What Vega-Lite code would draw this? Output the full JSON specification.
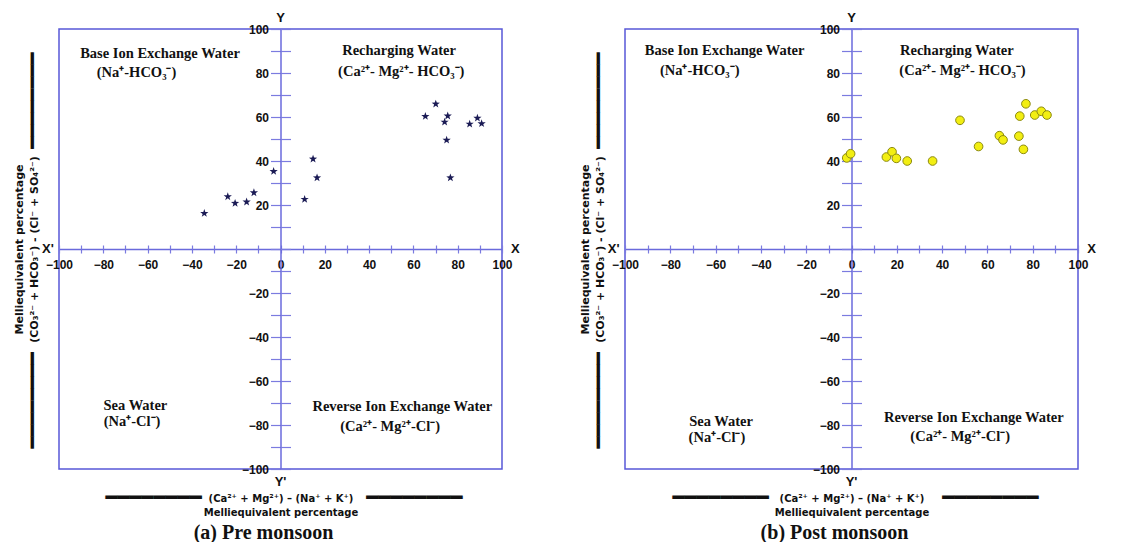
{
  "$schema": "https://vega.github.io/schema/vega-lite/v6.json",
  "padding": {"left": 12, "top": 11, "right": 0, "bottom": 0},
  "spacing": 57,
  "datasets": {
    "pre": [
      {"x": -34.4, "y": 16.2}, {"x": -23.8, "y": 23.8}, {"x": -20.5, "y": 20.8}, {"x": -15.3, "y": 21.4},
      {"x": -12.0, "y": 25.6}, {"x": -3.1, "y": 35.3}, {"x": 10.9, "y": 22.6}, {"x": 14.7, "y": 40.9},
      {"x": 16.5, "y": 32.4}, {"x": 65.4, "y": 60.3}, {"x": 70.1, "y": 65.9}, {"x": 74.1, "y": 57.7},
      {"x": 75.5, "y": 60.5}, {"x": 75.0, "y": 49.5}, {"x": 76.7, "y": 32.4}, {"x": 85.4, "y": 56.8},
      {"x": 88.9, "y": 59.5}, {"x": 90.8, "y": 57.0}
    ],
    "post": [
      {"x": -2.1, "y": 41.4}, {"x": -0.4, "y": 43.3}, {"x": 15.4, "y": 41.8}, {"x": 17.9, "y": 44.2},
      {"x": 19.8, "y": 41.2}, {"x": 24.6, "y": 40.0}, {"x": 35.8, "y": 40.0}, {"x": 47.9, "y": 58.5},
      {"x": 56.1, "y": 46.6}, {"x": 65.3, "y": 51.5}, {"x": 66.9, "y": 49.6}, {"x": 73.9, "y": 51.3},
      {"x": 74.3, "y": 60.4}, {"x": 75.9, "y": 45.3}, {"x": 77.0, "y": 66.0}, {"x": 80.9, "y": 60.9},
      {"x": 83.8, "y": 62.6}, {"x": 86.3, "y": 60.9}
    ],
    "quad_a": [
      {"x": -54.4, "y": 88.6, "label": "Base Ion Exchange Water"},
      {"x": -65, "y": 80, "label": "(Na⁺-HCO₃⁻)"},
      {"x": 53.5, "y": 90, "label": "Recharging Water"},
      {"x": 54.5, "y": 80.5, "label": "(Ca²⁺- Mg²⁺- HCO₃⁻)"},
      {"x": -65.5, "y": -71.4, "label": "Sea Water"},
      {"x": -67, "y": -78.6, "label": "(Na⁺-Cl⁻)"},
      {"x": 55, "y": -72, "label": "Reverse Ion Exchange Water"},
      {"x": 49.5, "y": -81, "label": "(Ca²⁺- Mg²⁺-Cl⁻)"}
    ],
    "quad_b": [
      {"x": -56, "y": 90, "label": "Base Ion Exchange Water"},
      {"x": -67, "y": 81, "label": "(Na⁺-HCO₃⁻)"},
      {"x": 46.5, "y": 90, "label": "Recharging Water"},
      {"x": 49, "y": 81, "label": "(Ca²⁺- Mg²⁺- HCO₃⁻)"},
      {"x": -57.6, "y": -78.6, "label": "Sea Water"},
      {"x": -59.4, "y": -86, "label": "(Na⁺-Cl⁻)"},
      {"x": 54, "y": -77, "label": "Reverse Ion Exchange Water"},
      {"x": 48, "y": -85.5, "label": "(Ca²⁺- Mg²⁺-Cl⁻)"}
    ],
    "ends": [
      {"x": 0, "y": 105, "label": "Y"},
      {"x": 106, "y": 0, "label": "X"},
      {"x": -105, "y": 0, "label": "X'"},
      {"x": 0, "y": -106, "label": "Y'"}
    ]
  },
  "hconcat": [
    {
      "width": 443,
      "height": 440,
      "title": {"text": "(a) Pre monsoon", "orient": "bottom", "font": "Liberation Serif", "fontSize": 20, "fontWeight": "bold", "color": "#111111", "offset": 6, "anchor": "middle", "dx": -17},
      "resolve": {"axis": {"x": "independent", "y": "independent"}},
      "layer": [
        {
          "data": {"name": "pre"},
          "mark": {"type": "point", "shape": "M0,-1L0.235,-0.324L0.951,-0.309L0.38,0.124L0.588,0.809L0,0.4L-0.588,0.809L-0.38,0.124L-0.951,-0.309L-0.235,-0.324Z", "filled": true, "color": "#1b1b55", "opacity": 1, "size": 75},
          "encoding": {
            "x": {"field": "x", "type": "quantitative", "scale": {"domain": [-100, 100], "nice": false, "zero": false},
              "axis": {"orient": "bottom", "offset": -220, "title": null, "grid": false,
                "values": [-100,-90,-80,-70,-60,-50,-40,-30,-20,-10,0,10,20,30,40,50,60,70,80,90,100],
                "labelExpr": "datum.value % 20 === 0 ? datum.label : ''",
                "tickSize": 4, "tickColor": "#7b7be0", "tickWidth": 1.2, "domainColor": "#6a6adc", "domainWidth": 1.5,
                "labelFont": "Liberation Sans", "labelFontWeight": "bold", "labelFontSize": 12, "labelColor": "#111111",
                "labelPadding": 6, "labelFlush": false, "labelOverlap": false}},
            "y": {"field": "y", "type": "quantitative", "scale": {"domain": [-100, 100], "nice": false, "zero": false},
              "axis": {"orient": "left", "offset": -221.5, "title": null, "grid": false,
                "values": [-100,-90,-80,-70,-60,-50,-40,-30,-20,-10,0,10,20,30,40,50,60,70,80,90,100],
                "labelExpr": "datum.value % 20 === 0 && datum.value !== 0 ? datum.label : ''",
                "tickSize": 10, "tickColor": "#7b7be0", "tickWidth": 1.2, "domainColor": "#6a6adc", "domainWidth": 1.5,
                "labelFont": "Liberation Sans", "labelFontWeight": "bold", "labelFontSize": 12, "labelColor": "#111111",
                "labelPadding": 2, "labelOverlap": false}}
          }
        },
        {
          "data": {"name": "pre"},
          "mark": {"type": "point", "opacity": 0},
          "encoding": {
            "x": {"field": "x", "type": "quantitative",
              "axis": {"orient": "top", "offset": -220, "title": null, "grid": false, "labels": false, "domain": false,
                "values": [-100,-90,-80,-70,-60,-50,-40,-30,-20,-10,0,10,20,30,40,50,60,70,80,90,100],
                "tickSize": 4, "tickColor": "#7b7be0", "tickWidth": 1.2}},
            "y": {"field": "y", "type": "quantitative",
              "axis": {"orient": "right", "offset": -221.5, "title": null, "grid": false, "labels": false, "domain": false,
                "values": [-100,-90,-80,-70,-60,-50,-40,-30,-20,-10,0,10,20,30,40,50,60,70,80,90,100],
                "tickSize": 10, "tickColor": "#7b7be0", "tickWidth": 1.2}}
          }
        },
        {
          "data": {"name": "pre"},
          "mark": {"type": "point", "opacity": 0},
          "encoding": {
            "x": {"field": "x", "type": "quantitative",
              "axis": {"orient": "bottom", "offset": 0, "grid": false, "labels": false, "domain": false, "ticks": false,
                "title": ["(Ca²⁺ + Mg²⁺) – (Na⁺ + K⁺)", "Melliequivalent percentage"],
                "titleFont": "DejaVu Sans", "titleFontWeight": "bold", "titleFontSize": 10, "titleColor": "#111111",
                "titlePadding": 24, "titleLineHeight": 14}},
            "y": {"field": "y", "type": "quantitative",
              "axis": {"orient": "left", "offset": 0, "grid": false, "labels": false, "domain": false, "ticks": false,
                "title": ["Melliequivalent percentage", "(CO₃²⁻ + HCO₃⁻) - (Cl⁻ + SO₄²⁻)"],
                "titleFont": "DejaVu Sans", "titleFontWeight": "bold", "titleFontSize": 11, "titleColor": "#111111",
                "titlePadding": 20, "titleLineHeight": 15}}
          }
        },
        {
          "data": {"name": "pre"},
          "mark": {"type": "point", "opacity": 0},
          "encoding": {
            "x": {"field": "x", "type": "quantitative",
              "axis": {"orient": "bottom", "offset": 0, "grid": false, "labels": false, "domain": false, "ticks": false,
                "title": "━━━━━━━━", "titleX": 46, "titleAlign": "left",
                "titleFont": "DejaVu Sans", "titleFontWeight": "normal", "titleFontSize": 20, "titleColor": "#111111",
                "titlePadding": 18}},
            "y": {"field": "y", "type": "quantitative",
              "axis": {"orient": "left", "offset": 0, "grid": false, "labels": false, "domain": false, "ticks": false,
                "title": "━━━━━━━━", "titleY": 419, "titleAlign": "left",
                "titleFont": "DejaVu Sans", "titleFontWeight": "normal", "titleFontSize": 20, "titleColor": "#111111",
                "titlePadding": 17}}
          }
        },
        {
          "data": {"name": "pre"},
          "mark": {"type": "point", "opacity": 0},
          "encoding": {
            "x": {"field": "x", "type": "quantitative",
              "axis": {"orient": "bottom", "offset": 0, "grid": false, "labels": false, "domain": false, "ticks": false,
                "title": "━━━━━━━━", "titleX": 403, "titleAlign": "right",
                "titleFont": "DejaVu Sans", "titleFontWeight": "normal", "titleFontSize": 20, "titleColor": "#111111",
                "titlePadding": 18}},
            "y": {"field": "y", "type": "quantitative",
              "axis": {"orient": "left", "offset": 0, "grid": false, "labels": false, "domain": false, "ticks": false,
                "title": "━━━━━━━━", "titleY": 23, "titleAlign": "right",
                "titleFont": "DejaVu Sans", "titleFontWeight": "normal", "titleFontSize": 20, "titleColor": "#111111",
                "titlePadding": 17}}
          }
        },
        {
          "data": {"name": "quad_a"},
          "mark": {"type": "text", "font": "Liberation Serif", "fontWeight": "bold", "fontSize": 14.5, "color": "#111111"},
          "encoding": {
            "x": {"field": "x", "type": "quantitative", "axis": null},
            "y": {"field": "y", "type": "quantitative", "axis": null},
            "text": {"field": "label"}
          }
        },
        {
          "data": {"name": "ends"},
          "mark": {"type": "text", "font": "Liberation Sans", "fontWeight": "bold", "fontSize": 13, "color": "#111111"},
          "encoding": {
            "x": {"field": "x", "type": "quantitative", "axis": null},
            "y": {"field": "y", "type": "quantitative", "axis": null},
            "text": {"field": "label"}
          }
        }
      ]
    },
    {
      "width": 453,
      "height": 440,
      "title": {"text": "(b) Post monsoon", "orient": "bottom", "font": "Liberation Serif", "fontSize": 20, "fontWeight": "bold", "color": "#111111", "offset": 6, "anchor": "middle", "dx": -17},
      "resolve": {"axis": {"x": "independent", "y": "independent"}},
      "layer": [
        {
          "data": {"name": "post"},
          "mark": {"type": "point", "shape": "circle", "filled": true, "fill": "#f2ee12", "stroke": "#8c8a10", "strokeWidth": 1, "opacity": 1, "size": 75},
          "encoding": {
            "x": {"field": "x", "type": "quantitative", "scale": {"domain": [-100, 100], "nice": false, "zero": false},
              "axis": {"orient": "bottom", "offset": -220, "title": null, "grid": false,
                "values": [-100,-90,-80,-70,-60,-50,-40,-30,-20,-10,0,10,20,30,40,50,60,70,80,90,100],
                "labelExpr": "datum.value % 20 === 0 ? datum.label : ''",
                "tickSize": 4, "tickColor": "#7b7be0", "tickWidth": 1.2, "domainColor": "#6a6adc", "domainWidth": 1.5,
                "labelFont": "Liberation Sans", "labelFontWeight": "bold", "labelFontSize": 12, "labelColor": "#111111",
                "labelPadding": 6, "labelFlush": false, "labelOverlap": false}},
            "y": {"field": "y", "type": "quantitative", "scale": {"domain": [-100, 100], "nice": false, "zero": false},
              "axis": {"orient": "left", "offset": -226.5, "title": null, "grid": false,
                "values": [-100,-90,-80,-70,-60,-50,-40,-30,-20,-10,0,10,20,30,40,50,60,70,80,90,100],
                "labelExpr": "datum.value % 20 === 0 && datum.value !== 0 ? datum.label : ''",
                "tickSize": 10, "tickColor": "#7b7be0", "tickWidth": 1.2, "domainColor": "#6a6adc", "domainWidth": 1.5,
                "labelFont": "Liberation Sans", "labelFontWeight": "bold", "labelFontSize": 12, "labelColor": "#111111",
                "labelPadding": 2, "labelOverlap": false}}
          }
        },
        {
          "data": {"name": "post"},
          "mark": {"type": "point", "opacity": 0},
          "encoding": {
            "x": {"field": "x", "type": "quantitative",
              "axis": {"orient": "top", "offset": -220, "title": null, "grid": false, "labels": false, "domain": false,
                "values": [-100,-90,-80,-70,-60,-50,-40,-30,-20,-10,0,10,20,30,40,50,60,70,80,90,100],
                "tickSize": 4, "tickColor": "#7b7be0", "tickWidth": 1.2}},
            "y": {"field": "y", "type": "quantitative",
              "axis": {"orient": "right", "offset": -226.5, "title": null, "grid": false, "labels": false, "domain": false,
                "values": [-100,-90,-80,-70,-60,-50,-40,-30,-20,-10,0,10,20,30,40,50,60,70,80,90,100],
                "tickSize": 10, "tickColor": "#7b7be0", "tickWidth": 1.2}}
          }
        },
        {
          "data": {"name": "post"},
          "mark": {"type": "point", "opacity": 0},
          "encoding": {
            "x": {"field": "x", "type": "quantitative",
              "axis": {"orient": "bottom", "offset": 0, "grid": false, "labels": false, "domain": false, "ticks": false,
                "title": ["(Ca²⁺ + Mg²⁺) – (Na⁺ + K⁺)", "Melliequivalent percentage"],
                "titleFont": "DejaVu Sans", "titleFontWeight": "bold", "titleFontSize": 10, "titleColor": "#111111",
                "titlePadding": 24, "titleLineHeight": 14}},
            "y": {"field": "y", "type": "quantitative",
              "axis": {"orient": "left", "offset": 0, "grid": false, "labels": false, "domain": false, "ticks": false,
                "title": ["Melliequivalent percentage", "(CO₃²⁻ + HCO₃⁻) - (Cl⁻ + SO₄²⁻)"],
                "titleFont": "DejaVu Sans", "titleFontWeight": "bold", "titleFontSize": 11, "titleColor": "#111111",
                "titlePadding": 20, "titleLineHeight": 15}}
          }
        },
        {
          "data": {"name": "post"},
          "mark": {"type": "point", "opacity": 0},
          "encoding": {
            "x": {"field": "x", "type": "quantitative",
              "axis": {"orient": "bottom", "offset": 0, "grid": false, "labels": false, "domain": false, "ticks": false,
                "title": "━━━━━━━━", "titleX": 47, "titleAlign": "left",
                "titleFont": "DejaVu Sans", "titleFontWeight": "normal", "titleFontSize": 20, "titleColor": "#111111",
                "titlePadding": 18}},
            "y": {"field": "y", "type": "quantitative",
              "axis": {"orient": "left", "offset": 0, "grid": false, "labels": false, "domain": false, "ticks": false,
                "title": "━━━━━━━━", "titleY": 419, "titleAlign": "left",
                "titleFont": "DejaVu Sans", "titleFontWeight": "normal", "titleFontSize": 20, "titleColor": "#111111",
                "titlePadding": 17}}
          }
        },
        {
          "data": {"name": "post"},
          "mark": {"type": "point", "opacity": 0},
          "encoding": {
            "x": {"field": "x", "type": "quantitative",
              "axis": {"orient": "bottom", "offset": 0, "grid": false, "labels": false, "domain": false, "ticks": false,
                "title": "━━━━━━━━", "titleX": 413, "titleAlign": "right",
                "titleFont": "DejaVu Sans", "titleFontWeight": "normal", "titleFontSize": 20, "titleColor": "#111111",
                "titlePadding": 18}},
            "y": {"field": "y", "type": "quantitative",
              "axis": {"orient": "left", "offset": 0, "grid": false, "labels": false, "domain": false, "ticks": false,
                "title": "━━━━━━━━", "titleY": 23, "titleAlign": "right",
                "titleFont": "DejaVu Sans", "titleFontWeight": "normal", "titleFontSize": 20, "titleColor": "#111111",
                "titlePadding": 17}}
          }
        },
        {
          "data": {"name": "quad_b"},
          "mark": {"type": "text", "font": "Liberation Serif", "fontWeight": "bold", "fontSize": 14.5, "color": "#111111"},
          "encoding": {
            "x": {"field": "x", "type": "quantitative", "axis": null},
            "y": {"field": "y", "type": "quantitative", "axis": null},
            "text": {"field": "label"}
          }
        },
        {
          "data": {"name": "ends"},
          "mark": {"type": "text", "font": "Liberation Sans", "fontWeight": "bold", "fontSize": 13, "color": "#111111"},
          "encoding": {
            "x": {"field": "x", "type": "quantitative", "axis": null},
            "y": {"field": "y", "type": "quantitative", "axis": null},
            "text": {"field": "label"}
          }
        }
      ]
    }
  ],
  "config": {
    "view": {"stroke": "#5858d8", "strokeWidth": 1.5},
    "axis": {"grid": false}
  }
}
